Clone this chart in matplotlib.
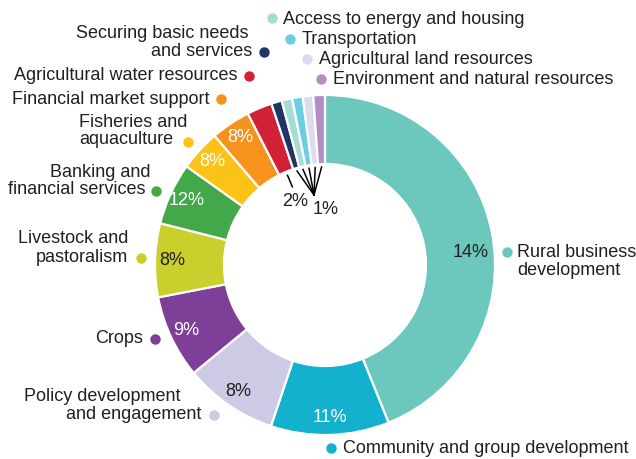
import numpy as np
import matplotlib
matplotlib.use("Agg")
import matplotlib.pyplot as plt

plt.rcParams["font.family"] = ["Liberation Sans", "DejaVu Sans"]

# ---- data -------------------------------------------------------------
categories = [
    "Rural business development",
    "Community and group development",
    "Policy development and engagement",
    "Crops",
    "Livestock and pastoralism",
    "Banking and financial services",
    "Fisheries and aquaculture",
    "Financial market support",
    "Agricultural water resources",
    "Securing basic needs and services",
    "Access to energy and housing",
    "Transportation",
    "Agricultural land resources",
    "Environment and natural resources",
]
# share of the ring taken by each slice
shares = [43.9, 11.25, 8.9, 7.9, 7.0, 5.9, 3.9, 3.75, 2.4, 1.0, 1.0, 1.0, 1.0, 1.1]
# printed percentage for each slice
pct_labels = ["14%", "11%", "8%", "9%", "8%", "12%", "8%", "8%", "2%",
              "1%", "1%", "1%", "1%", "1%"]

colors = ["#6CC7BD", "#14B1CE", "#CCCAE4", "#7D3F97", "#C9D02B", "#42A849",
          "#FDC218", "#F6921E", "#D22036", "#1F3565", "#A5DDD5", "#6ECEE1",
          "#DCDCEE", "#B38DC3"]
pct_colors = ["#231F20", "white", "#231F20", "white", "#231F20", "white",
              "white", "white"]

TXT = "#231F20"
W, H = 636, 459
CX, CY = 325, 265          # ring centre (pixels from top-left)
R_OUT, RING = 170, 69

fig = plt.figure(figsize=(W / 100, H / 100), dpi=100)
ax = fig.add_axes([0, 0, 1, 1])


def up(y):
    return H - y


ax.pie(shares, colors=colors, startangle=90, counterclock=False,
       radius=R_OUT, center=(CX, up(CY)),
       wedgeprops=dict(width=RING, edgecolor="white", linewidth=1.6))

# clockwise angles from 12 o'clock
edges = np.concatenate([[0], np.cumsum(shares)]) / np.sum(shares) * 360
mids = (edges[:-1] + edges[1:]) / 2


def polar(r, a):
    a = np.deg2rad(a)
    return CX + r * np.sin(a), up(CY) + r * np.cos(a)


# in-ring percentage labels
angle_shift = {0: 6}
radius_for = {0: 146}
for i in range(8):
    a = mids[i] + angle_shift.get(i, 0)
    x, y = polar(radius_for.get(i, 153), a)
    ax.text(x, y, pct_labels[i], ha="center", va="center", fontsize=13,
            color=pct_colors[i])

# leader lines for the thin slices
x0, y0 = polar(98, mids[8])
x1, y1 = polar(84, mids[8])
ax.plot([x0, x1], [y0, y1], color="black", lw=1.1, solid_capstyle="butt")
ax.text(295, up(202), pct_labels[8], ha="center", va="center", fontsize=13,
        color=TXT)
hub = (314, up(195))
for i in range(9, 14):
    xs, ys = polar(98, mids[i])
    ax.plot([xs, hub[0]], [ys, hub[1]], color="black", lw=1.1)
ax.text(326, up(210), pct_labels[9], ha="center", va="center", fontsize=13,
        color=TXT)

# category labels: (lines, text anchor x, line centres y, alignment, dot x, dot y)
layout = [
    (["Rural business", "development"], 517, [252, 270], "left", 507, 252),
    (["Community and group development"], 343, [448], "left", 331, 448),
    (["Policy development", "and engagement"], [180, 201], [396, 414], "right", 214, 415),
    (["Crops"], 143, [338], "right", 155, 339),
    (["Livestock and", "pastoralism"], 128, [238, 257], "right", 141, 258),
    (["Banking and", "financial services"], [151, 146], [172, 189], "right", 156, 191),
    (["Fisheries and", "aquaculture"], [187, 173], [122, 139], "right", 188, 142),
    (["Financial market support"], 209, [99], "right", 221, 99),
    (["Agricultural water resources"], 238, [75], "right", 249, 76),
    (["Securing basic needs", "and services"], [249, 252], [33, 51], "right", 264, 52),
    (["Access to energy and housing"], 283, [19], "left", 272, 18),
    (["Transportation"], 302, [39], "left", 290, 39),
    (["Agricultural land resources"], 319, [59], "left", 307, 59),
    (["Environment and natural resources"], 333, [79], "left", 321, 79),
]

for i, (lines, xs, ys, ha, dx, dy) in enumerate(layout):
    if not isinstance(xs, list):
        xs = [xs] * len(lines)
    for line, x, y in zip(lines, xs, ys):
        ax.text(x, up(y + 5), line, ha=ha, va="baseline", fontsize=13,
                color=TXT)
    ax.plot(dx, up(dy), "o", ms=7.5, color=colors[i], mec="none")

ax.set_xlim(0, W)
ax.set_ylim(0, H)
ax.set_aspect("equal")
ax.axis("off")

fig.savefig("out.png", dpi=100)
